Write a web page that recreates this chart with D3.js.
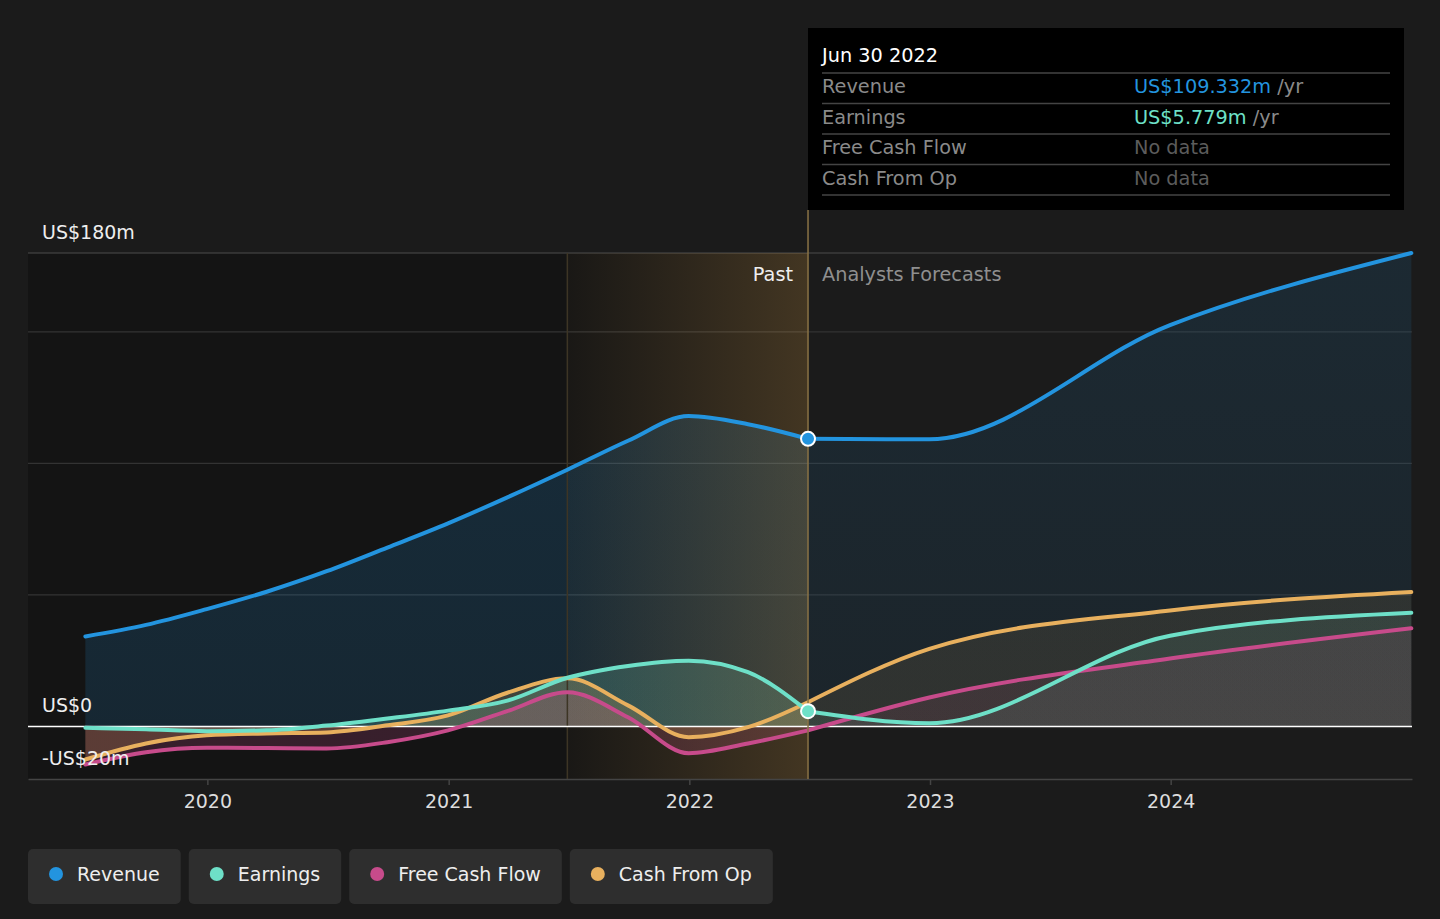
<!DOCTYPE html>
<html>
<head>
<meta charset="utf-8">
<script src="https://cdn.jsdelivr.net/npm/d3@7"></script>
<style>
  body { margin: 0; background: #1b1b1b; }
  svg { display: block; font-family: "DejaVu Sans", sans-serif; }
</style>
</head>
<body>
<svg id="chart" width="1440" height="919"></svg>
<script>
// ---- data (US$ millions) ----
const pastDates = ["2019-06-30", "2019-09-30", "2019-12-31", "2020-03-31", "2020-06-30", "2020-09-30",
    "2020-12-31", "2021-03-31", "2021-06-30", "2021-09-30", "2021-12-31", "2022-03-31", "2022-06-30"];
const revenuePast = [34.2, 38.6, 44.6, 51.2, 59.0, 68.0, 77.2, 87.1, 97.6, 108.6, 118.0, 114.9, 109.332];
const earningsPast = [-0.5, -1.1, -1.8, -1.5, 0.3, 3.0, 6.0, 9.8, 18.5, 23.0, 25.0, 20.6, 5.779];
const fcfPast = [-14.5, -9.8, -8.1, -8.2, -8.4, -6.0, -1.5, 5.8, 13.0, 3.5, -10.2, -6.5, -1.5];
const cfoPast = [-12.6, -6.5, -3.4, -2.7, -2.3, 0.4, 4.2, 12.8, 18.3, 8.0, -4.1, -0.3, 9.2];

const forecastDates = ["2022-06-30", "2022-12-31", "2023-12-31", "2024-12-31"];
const revenueForecast = [109.332, 109.2, 152.6, 180.0];
const earningsForecast = [5.779, 1.2, 34.5, 43.2];
const fcfForecast = [-1.5, 11.0, 25.8, 37.3];
const cfoForecast = [9.2, 29.5, 44.1, 51.1];

const seriesNames = ["Revenue", "Earnings", "Free Cash Flow", "Cash From Op"];
const seriesColors = ["#2394df", "#6ee0c8", "#c74b8b", "#e8b05e"];
const yTickValues = [-20, 0, 50, 100, 150, 180];
const yLabelValues = [180, 0, -20];
const yLabelText = ["US$180m", "US$0", "-US$20m"];
const xTickYears = [2020, 2021, 2022, 2023, 2024];

const tooltipDate = "Jun 30 2022";
const tooltipValues = ["US$109.332m", "US$5.779m", "No data", "No data"];

// ---- layout ----
const root = d3.select('#chart');
const LEFT = 28, RIGHT = 1412, TOP = 253, BOTTOM = 779;
const parse = d3.timeParse("%Y-%m-%d");

const x = d3.scaleTime()
    .domain([new Date(2019, 3, 4), new Date(2025, 0, 1)])
    .range([LEFT, RIGHT]);
const y = d3.scaleLinear().domain([-20, 180]).range([BOTTOM, TOP]);

const nowDate = parse("2022-06-30");
const bandStart = parse("2021-06-30");

const pastSeries = [revenuePast, earningsPast, fcfPast, cfoPast];
const forecastSeries = [revenueForecast, earningsForecast, fcfForecast, cfoForecast];

const defs = root.append('defs');

// background: past region darker
root.append('rect')
    .attr('x', LEFT).attr('y', TOP)
    .attr('width', x(nowDate) - LEFT).attr('height', BOTTOM - TOP)
    .attr('fill', '#141414');

// gridlines
root.selectAll('.grid').data(yTickValues.filter(v => v !== 0 && v !== -20)).enter()
    .append('line')
    .attr('x1', LEFT).attr('x2', RIGHT)
    .attr('y1', d => y(d)).attr('y2', d => y(d))
    .attr('stroke', d => d === 180 ? '#4d4d4d' : '#333')
    .attr('stroke-width', 1.2);

// area gradients, past and forecast per series
function makeGradient(id, c, top, bot) {
    const g = defs.append('linearGradient')
        .attr('id', id)
        .attr('gradientUnits', 'userSpaceOnUse')
        .attr('x1', 0).attr('x2', 0)
        .attr('y1', y(180)).attr('y2', y(0));
    g.append('stop').attr('offset', 0).attr('stop-color', c).attr('stop-opacity', top);
    g.append('stop').attr('offset', 1).attr('stop-color', c).attr('stop-opacity', bot);
}
seriesColors.forEach((c, i) => {
    if (i === 0) {
        makeGradient('ap0', c, 0.2, 0.15);
        makeGradient('af0', c, 0.12, 0.08);
    } else {
        makeGradient('ap' + i, c, 0.16, 0.2);
        makeGradient('af' + i, c, 0.08, 0.1);
    }
});

const line = d3.line()
    .x(d => x(d.date)).y(d => y(d.value))
    .curve(d3.curveMonotoneX);
const area = d3.area()
    .x(d => x(d.date)).y0(y(0)).y1(d => y(d.value))
    .curve(d3.curveMonotoneX);

function toPoints(dates, values) {
    return dates.map((d, i) => ({ date: parse(d), value: values[i] }));
}

const pastPts = pastSeries.map(s => toPoints(pastDates, s));
const fcPts = forecastSeries.map(s => toPoints(forecastDates, s));

// areas
pastPts.forEach((pts, i) => {
    root.append('path').datum(pts).attr('d', area).attr('fill', 'url(#ap' + i + ')');
});
fcPts.forEach((pts, i) => {
    root.append('path').datum(pts).attr('d', area).attr('fill', 'url(#af' + i + ')');
});

// highlighted last-year band
const bg = defs.append('linearGradient').attr('id', 'band')
    .attr('x1', 0).attr('x2', 1).attr('y1', 0).attr('y2', 0);
bg.append('stop').attr('offset', 0).attr('stop-color', '#c8964a').attr('stop-opacity', 0.03);
bg.append('stop').attr('offset', 1).attr('stop-color', '#c8964a').attr('stop-opacity', 0.26);
root.append('rect')
    .attr('x', x(bandStart)).attr('y', TOP)
    .attr('width', x(nowDate) - x(bandStart)).attr('height', BOTTOM - TOP)
    .attr('fill', 'url(#band)');
root.append('line')
    .attr('x1', x(bandStart)).attr('x2', x(bandStart))
    .attr('y1', TOP).attr('y2', BOTTOM)
    .attr('stroke', '#3d3525').attr('stroke-width', 1.5);

// zero line
root.append('line')
    .attr('x1', LEFT).attr('x2', RIGHT)
    .attr('y1', y(0)).attr('y2', y(0))
    .attr('stroke', '#ffffff').attr('stroke-width', 1.5);

// lines, drawn back to front
[3, 2, 1, 0].forEach(i => {
    [pastPts[i], fcPts[i]].forEach(pts => {
        root.append('path')
            .datum(pts)
            .attr('d', line)
            .attr('fill', 'none')
            .attr('stroke', seriesColors[i])
            .attr('stroke-width', 4)
            .attr('stroke-linecap', 'round');
    });
});

// x axis
const xAxis = root.append('g')
    .attr('transform', `translate(0,${BOTTOM})`)
    .call(d3.axisBottom(x)
        .tickValues(xTickYears.map(yr => new Date(yr, 0, 1)))
        .tickFormat(d3.timeFormat('%Y'))
        .tickSize(6)
        .tickSizeOuter(0)
        .tickPadding(10));
xAxis.select('.domain').attr('stroke', '#444').attr('stroke-width', 1.5);
xAxis.selectAll('.tick line').attr('stroke', '#444').attr('stroke-width', 1.5);
xAxis.selectAll('.tick text')
    .attr('fill', '#dddddd')
    .attr('font-size', 19)
    .attr('font-family', '"DejaVu Sans", sans-serif');

// y labels
root.selectAll('.ylab').data(yLabelValues).enter()
    .append('text')
    .text((d, i) => yLabelText[i])
    .attr('x', 42)
    .attr('y', d => y(d) - 14)
    .attr('font-size', 19)
    .attr('fill', '#eeeeee');

// now line
root.append('line')
    .attr('x1', x(nowDate)).attr('x2', x(nowDate))
    .attr('y1', 210).attr('y2', BOTTOM)
    .attr('stroke', '#8a7345').attr('stroke-width', 1.5);

root.append('text').text('Past')
    .attr('x', x(nowDate) - 15).attr('y', 281)
    .attr('text-anchor', 'end')
    .attr('font-size', 19.3).attr('fill', '#eeeeee');
root.append('text').text('Analysts Forecasts')
    .attr('x', x(nowDate) + 14).attr('y', 281)
    .attr('font-size', 19.3).attr('fill', '#8f8f8f');

// markers at the "now" point
[0, 1].forEach(i => {
    const p = fcPts[i][0];
    root.append('circle')
        .attr('cx', x(p.date)).attr('cy', y(p.value))
        .attr('r', 7)
        .attr('fill', seriesColors[i])
        .attr('stroke', '#ffffff').attr('stroke-width', 2);
});

// tooltip
const tip = root.append('g');
tip.append('rect')
    .attr('x', 808).attr('y', 28)
    .attr('width', 596).attr('height', 182)
    .attr('fill', '#000000');
tip.append('text').text(tooltipDate)
    .attr('x', 822).attr('y', 62)
    .attr('font-size', 19.3).attr('fill', '#ffffff');
const ROW_H = 30.5;
seriesNames.forEach((name, i) => {
    const ry = 73 + ROW_H * i;
    tip.append('line')
        .attr('x1', 822).attr('x2', 1390)
        .attr('y1', ry).attr('y2', ry)
        .attr('stroke', '#444').attr('stroke-width', 1.5);
    tip.append('text').text(name)
        .attr('x', 822).attr('y', ry + 20)
        .attr('font-size', 19.3).attr('fill', '#8a8a8a');
    const v = tip.append('text')
        .attr('x', 1134).attr('y', ry + 20)
        .attr('font-size', 19.3);
    if (tooltipValues[i] === 'No data') {
        v.text(tooltipValues[i]).attr('fill', '#5c5c5c');
    } else {
        v.append('tspan').text(tooltipValues[i]).attr('fill', seriesColors[i]);
        v.append('tspan').text(' /yr').attr('fill', '#8a8a8a');
    }
});
tip.append('line')
    .attr('x1', 822).attr('x2', 1390)
    .attr('y1', 73 + ROW_H * 4).attr('y2', 73 + ROW_H * 4)
    .attr('stroke', '#444').attr('stroke-width', 1.5);

// legend
let lx = 28;
seriesNames.forEach((name, i) => {
    const g = root.append('g');
    const r = g.append('rect')
        .attr('x', lx).attr('y', 849)
        .attr('height', 55).attr('rx', 5)
        .attr('fill', '#2e2e2e');
    g.append('circle')
        .attr('cx', lx + 28).attr('cy', 874)
        .attr('r', 7).attr('fill', seriesColors[i]);
    const t = g.append('text').text(name)
        .attr('x', lx + 49).attr('y', 881)
        .attr('font-size', 19).attr('fill', '#eeeeee');
    const w = t.node().getComputedTextLength() + 49 + 21;
    r.attr('width', w);
    lx += w + 8;
});
</script>
</body>
</html>
